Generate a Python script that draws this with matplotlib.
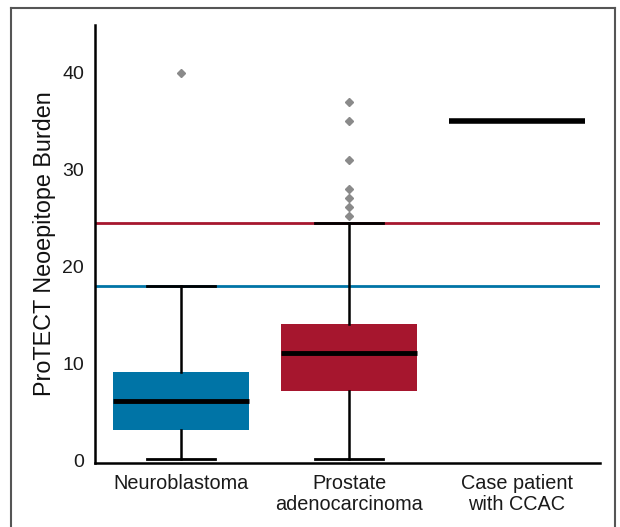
import matplotlib
matplotlib.use("Agg")
import matplotlib.pyplot as plt
from matplotlib.lines import Line2D

plt.rcParams['font.family'] = ['Liberation Sans', 'DejaVu Sans']

categories = ["Neuroblastoma", "Prostate\nadenocarcinoma", "Case patient\nwith CCAC"]
box_colors = ["#0074A6", "#A6162E"]
whislo = [0.1, 0.1]
q1 = [3.1, 7.1]
med = [6.1, 11.1]
q3 = [9.1, 14.1]
whishi = [18.0, 24.5]
fliers = [[40.0], [37.0, 35.0, 31.0, 28.0, 27.1, 26.1, 25.2]]
case_value = 35.0
ref_lines = [24.5, 18.0]
ref_colors = ["#A6162E", "#0074A6"]
yticks = [0, 10, 20, 30, 40]

fig = plt.figure(figsize=(6.2, 5.27), dpi=100)
ax = fig.add_axes([95/620, 1-463/527, 505/620, 438/527])

stats = []
for i in range(2):
    stats.append(dict(med=med[i], q1=q1[i], q3=q3[i], whislo=whislo[i],
                      whishi=whishi[i], fliers=fliers[i]))
bp = ax.bxp(stats, positions=[0, 1], widths=0.81, patch_artist=True,
            showfliers=True, capwidths=0.4,
            boxprops=dict(linewidth=0),
            medianprops=dict(color='black', linewidth=3.5),
            whiskerprops=dict(color='black', linewidth=1.8),
            capprops=dict(color='black', linewidth=2),
            flierprops=dict(marker='D', markersize=4.5, markerfacecolor='#8a8a8a',
                            markeredgecolor='#8a8a8a'))
for patch, c in zip(bp['boxes'], box_colors):
    patch.set_facecolor(c)
    patch.set_edgecolor(c)

for y, c in zip(ref_lines, ref_colors):
    ax.axhline(y, color=c, linewidth=2, zorder=1)
for cap in bp['caps']:
    cap.set_zorder(3)

ax.hlines(case_value, 2 - 0.405, 2 + 0.405, color='black', linewidth=4)

ax.set_xlim(-0.512, 2.494)
ax.set_ylim(-0.3, 44.95)
ax.set_xticks([0, 1, 2])
ax.set_xticklabels(categories, fontsize=14.3, color='#1a1a1a', linespacing=1.15)
ax.set_yticks(yticks)
ax.set_yticklabels([str(t) for t in yticks], fontsize=14, color='#1a1a1a')
ax.tick_params(length=0, pad=8)
ax.tick_params(axis='x', pad=8)
for s in ['top', 'right']:
    ax.spines[s].set_visible(False)
for s in ['left', 'bottom']:
    ax.spines[s].set_linewidth(1.8)
    ax.spines[s].set_color('black')
ax.set_ylabel("ProTECT Neoepitope Burden", fontsize=16.8, color='#111111', labelpad=4)

bc = '#555555'
x0, x1, y0 = 11/620, 615/620, 1 - 8/527
fig.add_artist(Line2D([x0, x0], [0, y0], color=bc, linewidth=1.5, transform=fig.transFigure))
fig.add_artist(Line2D([x1, x1], [0, y0], color=bc, linewidth=1.5, transform=fig.transFigure))
fig.add_artist(Line2D([x0, x1], [y0, y0], color=bc, linewidth=1.5, transform=fig.transFigure))

fig.savefig("out.png", dpi=100)
